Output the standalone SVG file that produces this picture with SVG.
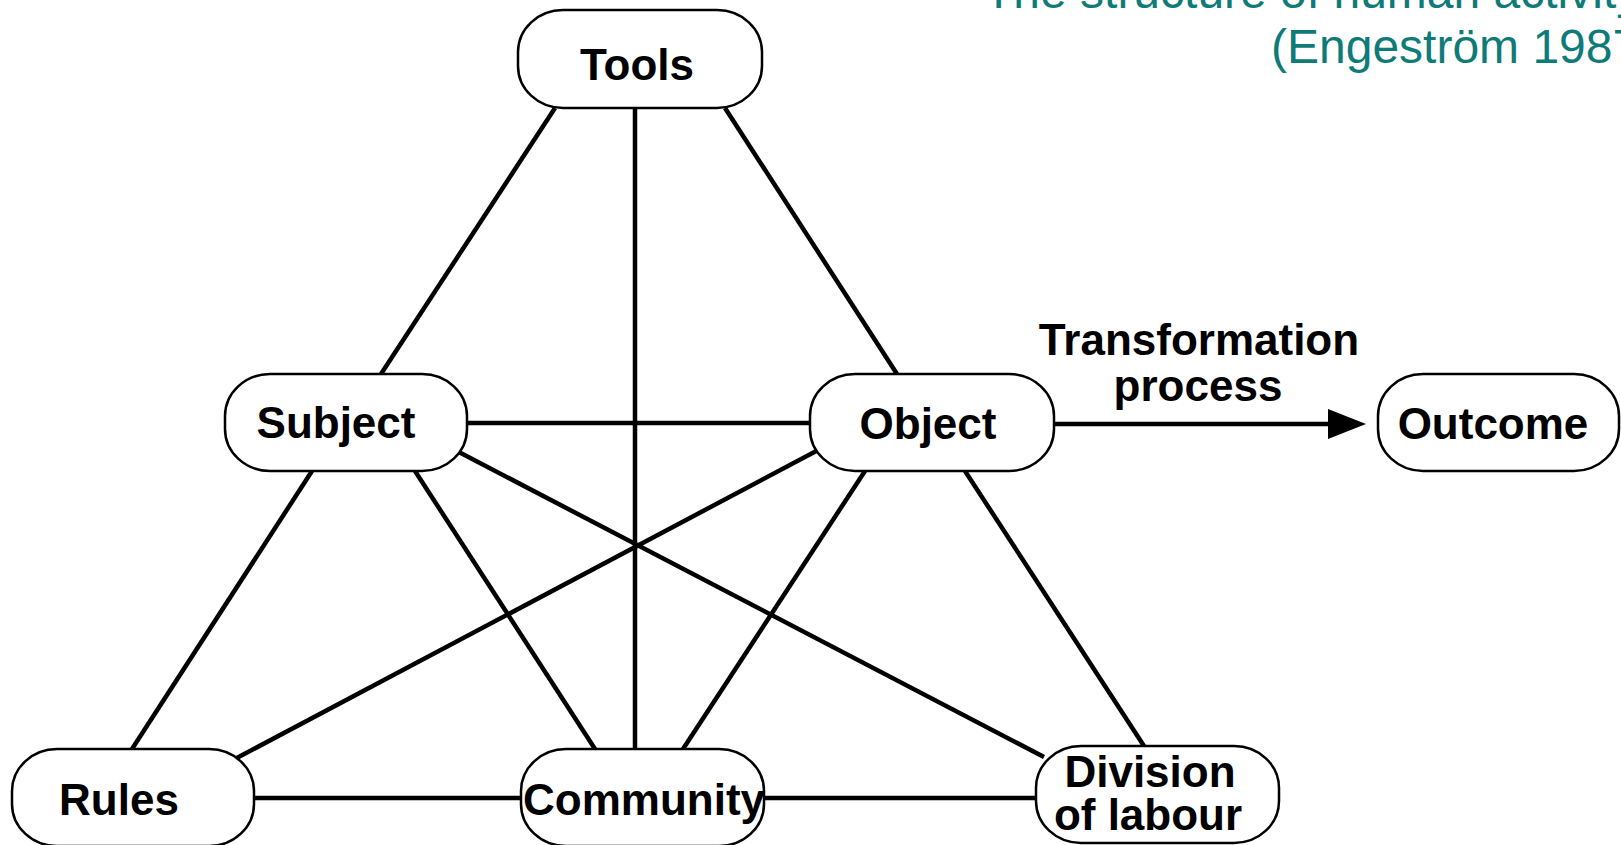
<svg xmlns="http://www.w3.org/2000/svg" width="1621" height="845" viewBox="0 0 1621 845">
<style>
.node rect{fill:#fff;stroke:#000;stroke-width:2.5}
.lbl{font-family:"Liberation Sans",Arial,sans-serif;font-weight:bold;font-size:44px;fill:#000;text-anchor:middle}
.title{font-family:"Liberation Sans",Arial,sans-serif;font-size:48px;fill:#0E7B78}
#connectors line{stroke:#000;stroke-width:4.5}
</style>
<rect width="1621" height="845" fill="#fff"/>
<g id="title">
<text class="title" x="984" y="8">The structure of human activity</text>
<text class="title" x="1271" y="63">(Engeström 1987)</text>
</g>
<g id="connectors">
<line x1="555" y1="108" x2="381" y2="374"/>
<line x1="635" y1="108" x2="635" y2="749"/>
<line x1="725" y1="108" x2="897" y2="374"/>
<line x1="467" y1="423" x2="810" y2="423"/>
<line x1="312" y1="471" x2="132" y2="749"/>
<line x1="415" y1="471" x2="595" y2="749"/>
<line x1="455" y1="450" x2="1044" y2="757"/>
<line x1="822" y1="448" x2="233" y2="760"/>
<line x1="865" y1="471" x2="683" y2="749"/>
<line x1="965" y1="471" x2="1144" y2="746"/>
<line x1="254" y1="798" x2="521" y2="798"/>
<line x1="764" y1="798" x2="1036" y2="798"/>
<line x1="1054" y1="424" x2="1332" y2="424"/>
<polygon points="1328,409 1366,424 1328,439" fill="#000"/>
<text class="lbl" x="1199" y="355">Transformation</text>
<text class="lbl" x="1198" y="401">process</text>
</g>
<g id="tools" class="node"><rect x="518" y="10" width="244" height="98" rx="45" ry="42"/><text class="lbl" x="637" y="80">Tools</text></g>
<g id="subject" class="node"><rect x="225" y="374" width="242" height="97" rx="45" ry="42"/><text class="lbl" x="336" y="438">Subject</text></g>
<g id="object" class="node"><rect x="810" y="374" width="244" height="97" rx="45" ry="42"/><text class="lbl" x="928" y="439">Object</text></g>
<g id="outcome" class="node"><rect x="1378" y="374" width="241" height="97" rx="45" ry="42"/><text class="lbl" x="1493" y="439">Outcome</text></g>
<g id="rules" class="node"><rect x="12" y="749" width="242" height="97" rx="45" ry="42"/><text class="lbl" x="119" y="815">Rules</text></g>
<g id="community" class="node"><rect x="521" y="749" width="243" height="97" rx="45" ry="42"/><text class="lbl" x="644" y="815">Community</text></g>
<g id="division" class="node"><rect x="1036" y="746" width="243" height="97" rx="45" ry="42"/><text class="lbl" x="1150" y="787">Division</text><text class="lbl" x="1148" y="830">of labour</text></g>
</svg>
